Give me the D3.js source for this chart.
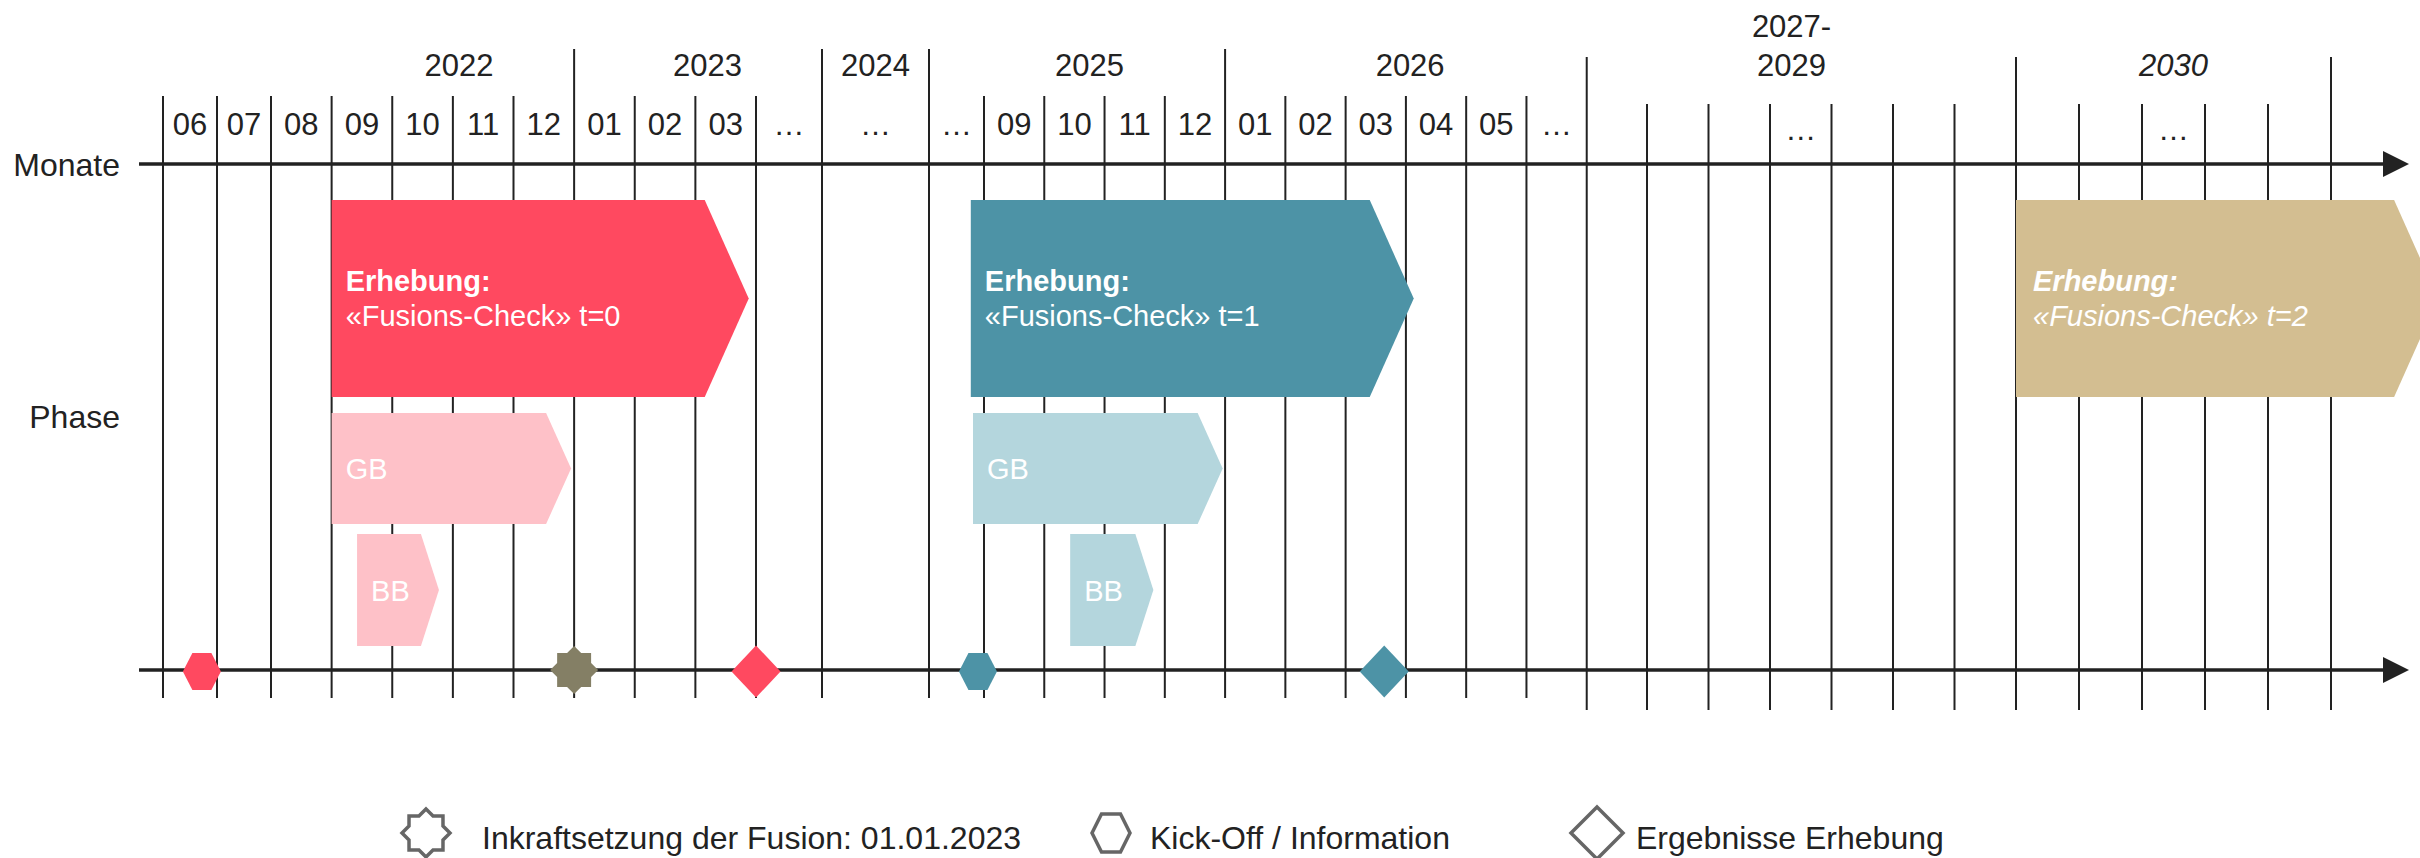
<!DOCTYPE html>
<html>
<head>
<meta charset="utf-8">
<script src="https://cdn.jsdelivr.net/npm/d3@7"></script>
<style>
  body { margin: 0; background: #fff; }
  svg { display: block; font-family: "Liberation Sans", Arial, Helvetica, sans-serif; }
</style>
</head>
<body>
<svg id="chart" width="2420" height="858"></svg>
<script>

/* Data */

// one label per grid cell of the time line, left to right
var monthLabels = ['06', '07', '08', '09', '10', '11', '12', '01', '02', '03', '…', '…', '…',
    '09', '10', '11', '12', '01', '02', '03', '04', '05', '…',
    '', '', '', '…', '', '', '', '', '', '…', '', ''];

// year headers, placed at a position on the month index
var yearLabels = ['2022', '2023', '2024', '2025', '2026', '2027-\n2029', '2030'];
var yearAt = [5.1, 9.2, 11.5, 14.75, 20.07, 26.35, 32.5];
var yearBreaks = [7, 11, 12, 17, 23, 30, 35];
var plannedYears = ['2030'];

// survey waves (month index)
var waves = ['t=0', 't=1', 't=2'];
var surveyStart = [3, 12.76, 30];
var surveyEnd = [9.88, 20.13, 36.7];
var gbStart = [3, 12.8];
var gbEnd = [6.95, 16.96];
var bbStart = [3.42, 14.43];
var bbEnd = [4.77, 15.81];

// milestones on the phase axis
var kickoffAt = [0.72, 12.89];
var resultsAt = [10, 19.64];
var fusionAt = 7;

var legendItems = ['Inkraftsetzung der Fusion: 01.01.2023', 'Kick-Off / Information', 'Ergebnisse Erhebung'];

var strong = ['#ff4960', '#4d93a6', '#d3be91'];
var light = ['#fec1c8', '#b4d6dd'];
var ink = '#222';

/* Scales */

var svg = d3.select('#chart');

var x = d3.scaleLinear()
    .domain([0, 2, 10, 11, 12, 13, 24, 30, 35])
    .range([163, 271, 756, 822, 929, 984, 1647, 2016, 2331]);

var row = d3.scaleOrdinal()
    .domain(['Erhebung', 'GB', 'BB'])
    .range([[200, 397], [413, 524], [534, 646]]);

var depth = { Erhebung: 44, GB: 25, BB: 18 };

var axisTop = 164, axisBottom = 670;

function arrowShape(d) {
    var y = row(d.row), x0 = x(d.start), tip = x(d.end), dp = depth[d.row];
    var mid = (y[0] + y[1]) / 2;
    return [[x0, y[0]], [tip - dp, y[0]], [tip, mid], [tip - dp, y[1]], [x0, y[1]]];
}

function hexagon(w, h) {
    return [[-w / 2, 0], [-w / 4, -h / 2], [w / 4, -h / 2], [w / 2, 0], [w / 4, h / 2], [-w / 4, h / 2]];
}
function star(R, r) {
    var pts = [];
    for (var i = 0; i < 16; i++) {
        var a = -Math.PI / 2 + i * Math.PI / 8;
        var rr = i % 2 ? r : R;
        pts.push([Math.cos(a) * rr, Math.sin(a) * rr]);
    }
    return pts;
}
function diamond(w, h) {
    return [[0, -h / 2], [w / 2, 0], [0, h / 2], [-w / 2, 0]];
}
var line = d3.line().curve(d3.curveLinearClosed);

/* Grid */

var bounds = d3.range(monthLabels.length + 1);

svg.append('g').selectAll('line')
    .data(bounds)
    .enter().append('line')
        .attr('x1', function(d) { return x(d); })
        .attr('x2', function(d) { return x(d); })
        .attr('y1', function(d) {
            var isYear = yearBreaks.indexOf(d) >= 0;
            if (d >= 23) return isYear ? 57 : 104;
            return isYear ? 49 : 96;
        })
        .attr('y2', function(d) { return d >= 23 ? 710 : 698; })
        .attr('stroke', ink)
        .attr('stroke-width', 2);

svg.append('g').selectAll('text')
    .data(monthLabels)
    .enter().append('text')
        .attr('x', function(d, i) { return (x(i) + x(i + 1)) / 2; })
        .attr('y', function(d, i) { return i >= 23 ? 140 : 135; })
        .attr('text-anchor', 'middle')
        .attr('font-size', 31)
        .attr('fill', ink)
        .text(function(d) { return d; });

var years = svg.append('g').selectAll('text')
    .data(yearLabels)
    .enter().append('text')
        .attr('x', function(d, i) { return x(yearAt[i]); })
        .attr('y', 76)
        .attr('text-anchor', 'middle')
        .attr('font-size', 31)
        .attr('font-style', function(d) { return plannedYears.indexOf(d) >= 0 ? 'italic' : null; })
        .attr('fill', ink);

years.each(function(d) {
    var parts = d.split('\n'), el = d3.select(this);
    parts.forEach(function(p, k) {
        el.append('tspan')
            .attr('x', el.attr('x'))
            .attr('dy', k === 0 ? -(parts.length - 1) * 39 : 39)
            .text(p);
    });
});

/* Phases */

var items = [];
waves.forEach(function(w, i) {
    items.push({ row: 'Erhebung', start: surveyStart[i], end: surveyEnd[i], wave: i, label: ['Erhebung:', '«Fusions-Check» ' + w] });
});
gbStart.forEach(function(s, i) {
    items.push({ row: 'GB', start: s, end: gbEnd[i], wave: i, label: ['GB'] });
    items.push({ row: 'BB', start: bbStart[i], end: bbEnd[i], wave: i, label: ['BB'] });
});

var bars = svg.append('g').selectAll('g')
    .data(items)
    .enter().append('g');

bars.append('path')
    .attr('d', function(d) { return line(arrowShape(d)); })
    .attr('fill', function(d) { return d.row === 'Erhebung' ? strong[d.wave] : light[d.wave]; });

bars.each(function(d) {
    var y = row(d.row), mid = (y[0] + y[1]) / 2;
    var t = d3.select(this).append('text')
        .attr('fill', '#fff')
        .attr('font-size', 29)
        .attr('font-style', d.wave === 2 ? 'italic' : null);
    d.label.forEach(function(s, k) {
        t.append('tspan')
            .attr('x', x(d.start) + (d.wave === 2 ? 17 : 14))
            .attr('y', mid + 10.5 + (d.label.length === 2 ? (k - 0.5) * 35 - 1 : 0))
            .attr('font-weight', d.label.length === 2 && k === 0 ? 'bold' : null)
            .text(s);
    });
});

/* Axes */

[axisTop, axisBottom].forEach(function(y) {
    svg.append('line')
        .attr('x1', 139).attr('x2', 2390)
        .attr('y1', y).attr('y2', y)
        .attr('stroke', ink)
        .attr('stroke-width', 3.5);
    svg.append('path')
        .attr('d', line([[2383, y - 13], [2409, y], [2383, y + 13]]))
        .attr('fill', ink);
});

svg.append('text')
    .attr('x', 120).attr('y', 176)
    .attr('text-anchor', 'end')
    .attr('font-size', 32)
    .attr('fill', ink)
    .text('Monate');

svg.append('text')
    .attr('x', 120).attr('y', 428)
    .attr('text-anchor', 'end')
    .attr('font-size', 32)
    .attr('fill', ink)
    .text('Phase');

/* Milestones */

var marks = svg.append('g');

kickoffAt.forEach(function(m, i) {
    marks.append('path')
        .attr('transform', 'translate(' + x(m) + ',' + (axisBottom + 1.5) + ')')
        .attr('d', line(hexagon(38, 37)))
        .attr('fill', strong[i]);
});
resultsAt.forEach(function(m, i) {
    marks.append('path')
        .attr('transform', 'translate(' + x(m) + ',' + (axisBottom + 1.5) + ')')
        .attr('d', line(diamond(49, 52)))
        .attr('fill', strong[i]);
});
marks.append('path')
    .attr('transform', 'translate(' + x(fusionAt) + ',' + axisBottom + ')')
    .attr('d', line(star(24, 18.4)))
    .attr('fill', '#847f65');

/* Legend */

var legendIcon = [line(star(24, 18.4)), line(hexagon(38, 38)), line(diamond(52, 52))];
var legendIconX = [426, 1111, 1597];
var legendTextX = [482, 1150, 1636];

var legend = svg.append('g').selectAll('g')
    .data(legendItems)
    .enter().append('g');

legend.append('path')
    .attr('transform', function(d, i) { return 'translate(' + legendIconX[i] + ',833)'; })
    .attr('d', function(d, i) { return legendIcon[i]; })
    .attr('fill', 'none')
    .attr('stroke', '#666')
    .attr('stroke-width', 3.5);

legend.append('text')
    .attr('x', function(d, i) { return legendTextX[i]; })
    .attr('y', 849)
    .attr('font-size', 32)
    .attr('fill', ink)
    .text(function(d) { return d; });

</script>
</body>
</html>
